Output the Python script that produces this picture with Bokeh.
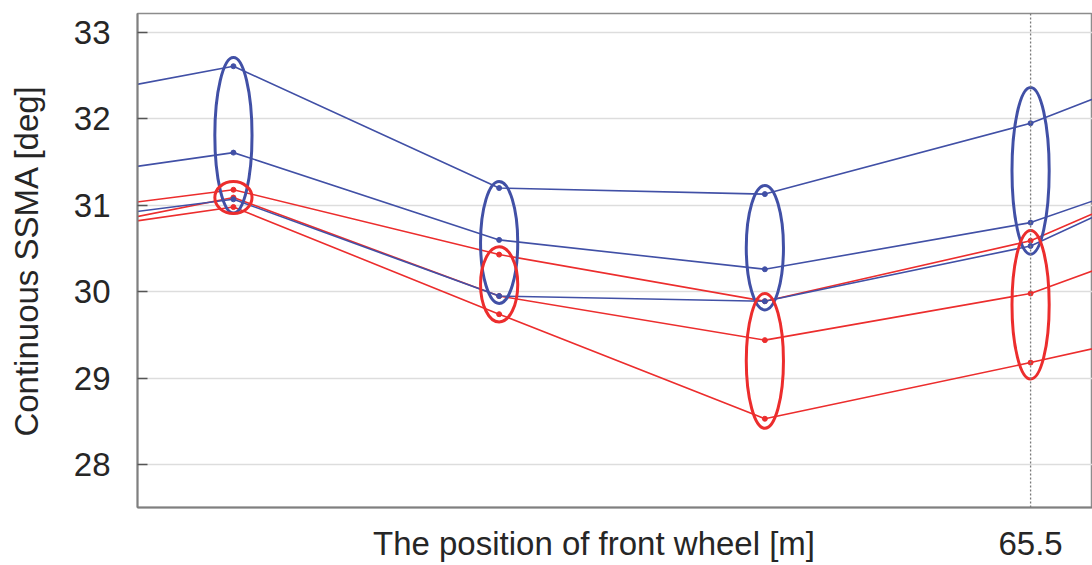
from bokeh.plotting import figure
from bokeh.models import FixedTicker, Span, Range1d
from bokeh.embed import file_html
from bokeh.resources import INLINE

# ---- data ----
positions = [61.5, 62.5, 63.5, 64.5, 65.5, 66.5]
blue_1 = [32.03, 32.61, 31.20, 31.13, 31.95, 33.15]
blue_2 = [31.17, 31.61, 30.60, 30.26, 30.80, 31.87]
blue_3 = [30.68, 31.07, 29.95, 29.89, 30.53, 31.95]
red_1 = [30.79, 31.18, 30.43, 29.89, 30.59, 31.92]
red_2 = [30.48, 31.09, 29.95, 29.44, 29.98, 31.10]
red_3 = [30.54, 30.98, 29.74, 28.53, 29.18, 29.87]

ellipse_x = [62.5, 63.5, 64.5, 65.5]
blue_ell_center = [31.81, 30.57, 30.51, 31.40]
blue_ell_height = [1.80, 1.41, 1.44, 1.93]
red_ell_center = [31.09, 30.085, 29.20, 29.85]
red_ell_height = [0.37, 0.87, 1.56, 1.72]
ell_width = 0.14

y_ticks = [28, 29, 30, 31, 32, 33]
x_tick = 65.5
x_tick_label = "65.5"
x_label_pos = 63.857
x_label = "The position of front wheel [m]"
y_label = "Continuous SSMA [deg]"

BLUE = "#4150a6"
RED = "#ec2d2d"
TXT = "#262626"
FONT = "Liberation Sans"

p = figure(width=1092, height=565, output_backend="svg", toolbar_location=None,
           x_range=Range1d(62.139, 65.733), y_range=Range1d(27.503, 33.22),
           min_border_left=137, min_border_right=0, min_border_top=13, min_border_bottom=58)

p.outline_line_color = "#8c8c8c"
p.outline_line_width = 1.5
p.background_fill_color = "white"

# grid
p.xgrid.visible = False
p.ygrid.ticker = FixedTicker(ticks=y_ticks)
p.ygrid.grid_line_color = "#dddddd"
p.ygrid.grid_line_width = 1.5

# axes
for ax in (p.xaxis[0], p.yaxis[0]):
    ax.axis_line_color = "#7f7f7f"
    ax.axis_line_width = 2
    ax.major_tick_in = 10
    ax.major_tick_out = 0
    ax.major_tick_line_color = "#555555"
    ax.major_tick_line_width = 1.5
    ax.minor_tick_line_color = None
    ax.major_label_text_font = FONT
    ax.major_label_text_font_size = "33px"
    ax.major_label_text_color = TXT
    ax.axis_label_text_font = FONT
    ax.axis_label_text_font_size = "33px"
    ax.axis_label_text_font_style = "normal"
    ax.axis_label_text_color = TXT

# x axis: the axis title sits on the same row as the single tick label
p.xaxis.ticker = FixedTicker(ticks=[x_label_pos, x_tick])
p.xaxis.major_label_overrides = {x_label_pos: x_label, x_tick: x_tick_label}
p.xaxis.major_tick_line_color = None
p.xaxis.major_label_standoff = 17

p.yaxis.ticker = FixedTicker(ticks=y_ticks)
p.yaxis.major_label_standoff = 27
p.yaxis.axis_label = y_label
p.yaxis.axis_label_standoff = 26

# dotted vertical line at 65.5
p.add_layout(Span(location=x_tick, dimension="height", line_color="#7a7a7a",
                  line_width=1.3, line_dash="2 2"))

# series
for ys, c in ((red_3, RED), (red_2, RED), (red_1, RED), (blue_3, BLUE), (blue_2, BLUE), (blue_1, BLUE)):
    p.line(positions, ys, line_color=c, line_width=1.6)
    p.scatter(positions, ys, size=5, fill_color=c, line_color=c)

# ellipses
p.ellipse(x=ellipse_x, y=blue_ell_center, width=ell_width, height=blue_ell_height,
          fill_color=None, line_color=BLUE, line_width=3)
p.ellipse(x=ellipse_x, y=red_ell_center, width=ell_width, height=red_ell_height,
          fill_color=None, line_color=RED, line_width=3)

open("out.html", "w").write(file_html(p, INLINE))
